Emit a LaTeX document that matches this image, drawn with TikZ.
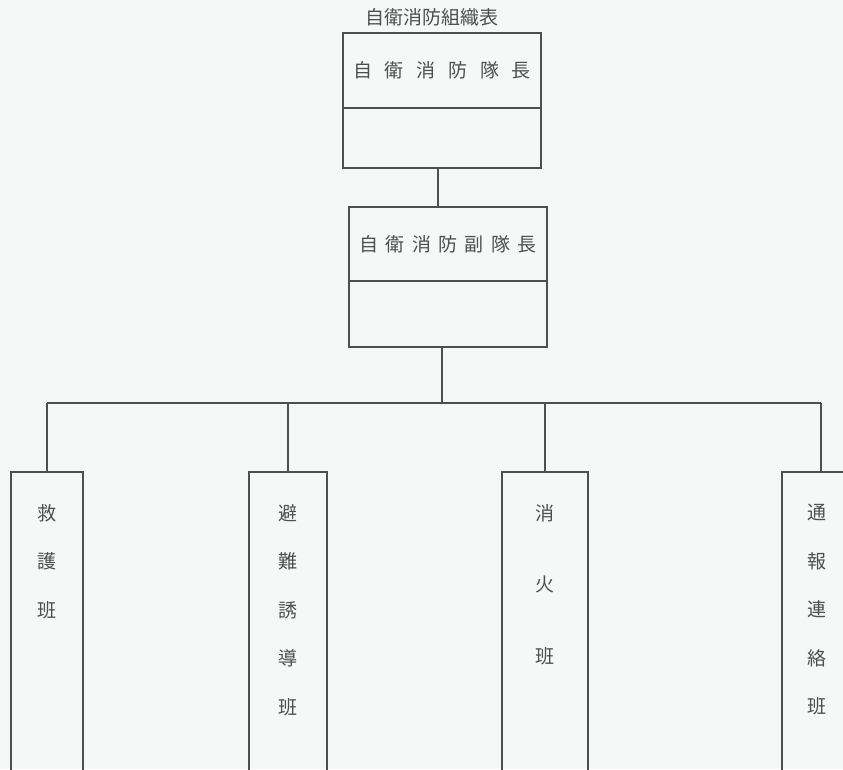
\documentclass[tikz,border=0pt]{standalone}
\usepackage{fontspec}
\setmainfont{Noto Sans CJK JP}
\usetikzlibrary{positioning}

\definecolor{paper}{HTML}{F6F8F7}
\definecolor{ink}{HTML}{4E4E4E}

\newcommand\widegap{\hspace{12.8pt}}
\newcommand\narrowgap{\hspace{7.3pt}}

\tikzset{
  post/.style={draw=ink, line width=1.2pt, outer sep=0pt, inner sep=0pt,
    minimum width=198pt, text=ink, font=\fontsize{19}{19}\selectfont},
  team/.style={draw=ink, line width=1.2pt, outer sep=0pt, inner sep=0pt,
    anchor=north, minimum height=330pt},
  teamlabel/.style={anchor=north, align=center, inner sep=0pt, text=ink,
    font=\fontsize{19}{48.5}\selectfont},
  link/.style={draw=ink, line width=1.2pt}
}

\begin{document}
\begin{tikzpicture}[x=1pt,y=-1pt]
  \fill[paper] (0,0) rectangle (843,769);
  \useasboundingbox (0,0) rectangle (843,769);
  \clip (0,0) rectangle (843,769);

  % heading
  \node[text=ink, inner sep=0pt, font=\fontsize{19}{19}\selectfont] (title) at (432,17) {自衛消防組織表};

  % chief and deputy
  \node[post, minimum height=75pt] (chief) at (442,70.5)
    {自\widegap 衛\widegap 消\widegap 防\widegap 隊\widegap 長};
  \node[post, minimum height=60pt, below=0pt of chief] (chiefbox) {};
  \node[post, minimum height=74pt] (deputy) at (448,244)
    {自\narrowgap 衛\narrowgap 消\narrowgap 防\narrowgap 副\narrowgap 隊\narrowgap 長};
  \node[post, minimum height=66pt, below=0pt of deputy] (deputybox) {};

  % teams
  \node[team, minimum width=72pt] (rescue) at (47,472) {};
  \node[team, minimum width=78pt] (evac) at (288,472) {};
  \node[team, minimum width=86pt] (fire) at (545,472) {};
  \node[team, minimum width=78pt] (report) at (821,472) {};

  \node[teamlabel, below=32pt of rescue.north] (rescuetext) {救\\護\\班};
  \node[teamlabel, below=32pt of evac.north] (evactext) {避\\難\\誘\\導\\班};
  \node[teamlabel, below=32pt of fire.north, font=\fontsize{19}{71.5}\selectfont] (firetext) {消\\火\\班};
  \node[teamlabel, below=32pt of report.north, xshift=-4pt] (reporttext) {通\\報\\連\\絡\\班};

  % connectors
  \coordinate (bus) at (442,403);
  \draw[link] ([xshift=-4pt]chiefbox.south) -- ([xshift=-4pt]chiefbox.south |- deputy.north);
  \draw[link] (deputybox.south -| bus) -- (bus);
  \draw[link] (rescue.north |- bus) -- (report.north |- bus);
  \foreach \t in {rescue,evac,fire,report}
    \draw[link] (\t.north |- bus) -- (\t.north);
\end{tikzpicture}
\end{document}
